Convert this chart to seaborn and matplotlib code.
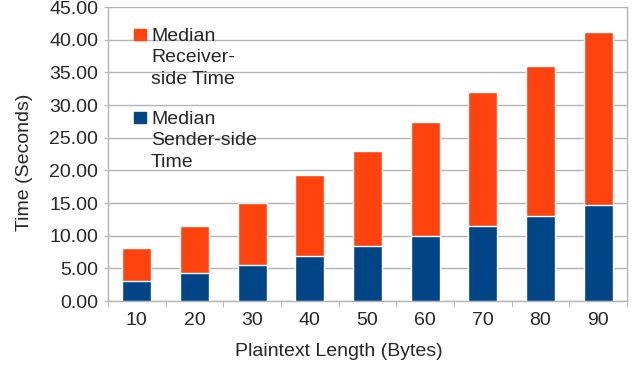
import numpy as np
import pandas as pd
import matplotlib
matplotlib.use("Agg")
import matplotlib.pyplot as plt
import matplotlib.patches as mpatches
import seaborn as sns

# values
lengths = ["10", "20", "30", "40", "50", "60", "70", "80", "90"]
sender_time = [3.05, 4.34, 5.5, 6.95, 8.45, 9.9, 11.55, 13.05, 14.75]
receiver_time = [5.02, 7.15, 9.55, 12.35, 14.53, 17.5, 20.5, 22.9, 26.4]
legend_labels = ["Median\nReceiver-\nside Time", "Median\nSender-side\nTime"]

df = pd.DataFrame({"length": lengths, "sender": sender_time, "receiver": receiver_time})
df["total"] = df["sender"] + df["receiver"]

orange = "#ff420e"
blue = "#004586"
grid_col = "#b3b3b3"
fs = 14

sns.set_style("white")
plt.rcParams["font.family"] = ["Liberation Sans", "DejaVu Sans"]

W, H = 635, 368
fig = plt.figure(figsize=(W / 100, H / 100), dpi=100)
ax = fig.add_axes([108 / W, 1 - 301 / H, 519 / W, 294 / H])

# stacked bars: total in orange, sender part drawn over it in blue
sns.barplot(data=df, x="length", y="total", color=orange, width=0.5,
            saturation=1, ax=ax, zorder=3)
sns.barplot(data=df, x="length", y="sender", color=blue, width=0.5,
            saturation=1, ax=ax, zorder=4)

ax.set_ylim(0, 45)
ax.set_xlim(-0.5, 8.5)
yt = np.arange(0, 46, 5)
ax.set_yticks(yt)
ax.set_yticklabels([f"{v:.2f}" for v in yt])
ax.yaxis.grid(True, color=grid_col, linewidth=1, zorder=0)
ax.set_axisbelow(True)

for side in ["left", "right", "bottom"]:
    ax.spines[side].set_color(grid_col)
    ax.spines[side].set_linewidth(1)
ax.spines["top"].set_visible(False)

ax.tick_params(axis="y", length=3, color=grid_col, labelsize=fs, pad=4, left=True)
ax.tick_params(axis="x", which="major", length=0, labelsize=fs, pad=8)
ax.set_xticks(np.arange(-0.5, 9, 1), minor=True)
ax.tick_params(axis="x", which="minor", length=4, color=grid_col, bottom=True)

ax.set_xlabel("Plaintext Length (Bytes)", fontsize=fs)
ax.set_ylabel("Time (Seconds)", fontsize=fs)
ax.xaxis.set_label_coords((339 - 108) / 519, -(352 - 301) / 294)
ax.xaxis.label.set_va("center")
ax.yaxis.set_label_coords(-(108 - 24) / 519, (301 - 162) / 294)
ax.yaxis.label.set_va("center")

# legend drawn by hand so the swatch sits on the first text line
for i, (lab, col) in enumerate(zip(legend_labels, [orange, blue])):
    top_px = 29 + i * 83
    fig.patches.append(mpatches.Rectangle((134 / W, 1 - (top_px + 11) / H), 12 / W, 11 / H,
                                          transform=fig.transFigure, color=col, figure=fig))
    fig.text(151 / W, 1 - (top_px - 1) / H, lab, fontsize=fs, va="top", ha="left",
             linespacing=1.33)

fig.savefig("out.png", dpi=100)
